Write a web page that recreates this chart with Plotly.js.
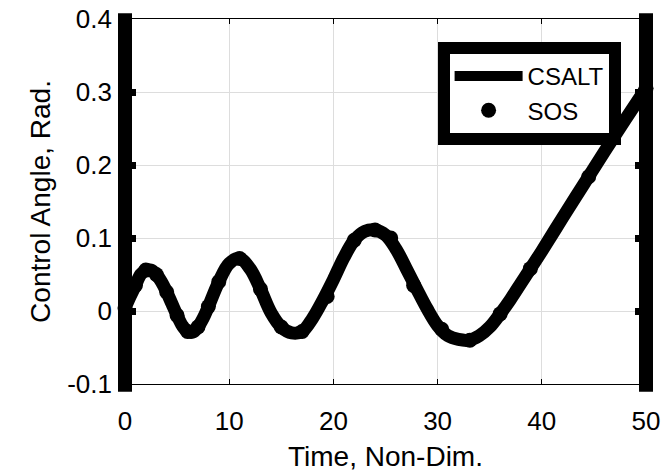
<!DOCTYPE html>
<html>
<head>
<meta charset="utf-8">
<script src="https://cdn.plot.ly/plotly-3.0.1.min.js"></script>
<style>html,body{margin:0;padding:0;background:#fff;}#chart{width:669px;height:472px;}</style>
</head>
<body>
<div id="chart"></div>
<script>
// CSALT solution (continuous curve)
const csaltTime = [0,0.5,1,1.5,2,2.5,3,3.5,4,4.5,5,5.5,6,6.5,7,7.5,8,9,10,11,12,13,14,15,16,17,18,19,20,21,22,23,24,25,26,27,28,29,30,31,32,33,34,35,36,37,38,39,40,42,44,46,48,50];
const csaltAngle = [0.004,0.02,0.035,0.05,0.056,0.056,0.05,0.04,0.026,0.01,-0.006,-0.02,-0.028,-0.029,-0.022,-0.01,0.006,0.04,0.065,0.072,0.058,0.03,-0.002,-0.022,-0.03,-0.028,-0.01,0.015,0.043,0.073,0.097,0.109,0.111,0.104,0.085,0.058,0.03,0.003,-0.02,-0.034,-0.039,-0.04,-0.034,-0.022,-0.004,0.016,0.038,0.06,0.082,0.128,0.173,0.218,0.262,0.305];
// SOS solution (discrete nodes)
const sosTime = [0,1,2,3,4,5,6,7,8,9,11,13,15,17,19.4,22,24,25.5,27.7,30.4,33.1,36,38.9,44.5,50];
const sosAngle = [0.004,0.035,0.056,0.05,0.026,-0.006,-0.028,-0.022,0.006,0.04,0.072,0.03,-0.022,-0.028,0.02,0.097,0.111,0.1,0.035,-0.025,-0.04,-0.004,0.058,0.184,0.305];
// Axis ticks
const xTicks = [0,10,20,30,40,50];
const xTickText = ['0','10','20','30','40','50'];
const yTicks = [-0.1,0,0.1,0.2,0.3,0.4];
const yTickText = ['-0.1','0','0.1','0.2','0.3','0.4'];

const FONT = 'Liberation Sans, Arial, Helvetica, sans-serif';

const traces = [
  {x: csaltTime, y: csaltAngle, name: 'CSALT', type: 'scatter', mode: 'lines',
   line: {color: '#000', width: 13, shape: 'spline', smoothing: 1}, cliponaxis: false},
  {x: sosTime, y: sosAngle, name: 'SOS', type: 'scatter', mode: 'markers',
   marker: {color: '#000', size: 15, symbol: 'circle'}, cliponaxis: false}
];

// thick vertical frame bars centred on the left and right plot edges
const frameBar = (xp) => ({type: 'line', xref: 'paper', yref: 'paper', x0: xp, x1: xp,
  y0: -0.021, y1: 1.016, layer: 'below', line: {color: '#000', width: 14}});

const layout = {
  width: 669, height: 472,
  margin: {l: 125, r: 23, t: 19, b: 88},
  paper_bgcolor: '#fff', plot_bgcolor: '#fff',
  font: {family: FONT, color: '#000', size: 24},
  showlegend: true,
  legend: {x: 0.6, y: 0.937, xanchor: 'left', yanchor: 'top',
    bgcolor: '#fff', bordercolor: '#000', borderwidth: 12, itemwidth: 68,
    font: {family: FONT, size: 24, color: '#000'}, tracegroupgap: 0},
  shapes: [frameBar(0), frameBar(1)],
  xaxis: {range: [0, 50], tickvals: xTicks, ticktext: xTickText,
    showgrid: true, gridcolor: '#dddddd', gridwidth: 1, zeroline: false,
    showline: true, linecolor: '#000', linewidth: 1, mirror: 'ticks',
    ticks: 'inside', ticklen: 5, tickwidth: 1, tickcolor: '#000',
    ticklabelstandoff: 14,
    tickfont: {family: FONT, size: 26, color: '#000'},
    layer: 'below traces',
    title: {text: 'Time, Non-Dim.', font: {family: FONT, size: 28, color: '#000'}, standoff: 12}},
  yaxis: {range: [-0.1, 0.4], tickvals: yTicks, ticktext: yTickText,
    showgrid: true, gridcolor: '#dddddd', gridwidth: 1, zeroline: false,
    showline: false, mirror: 'allticks',
    ticks: 'inside', ticklen: 11, tickwidth: 7, tickcolor: '#000',
    ticklabelstandoff: 12,
    tickfont: {family: FONT, size: 26, color: '#000'},
    layer: 'below traces',
    title: {text: 'Control Angle, Rad.', font: {family: FONT, size: 28, color: '#000'}, standoff: 8}}
};

Plotly.newPlot('chart', traces, layout, {displayModeBar: false, staticPlot: true});
</script>
</body>
</html>
